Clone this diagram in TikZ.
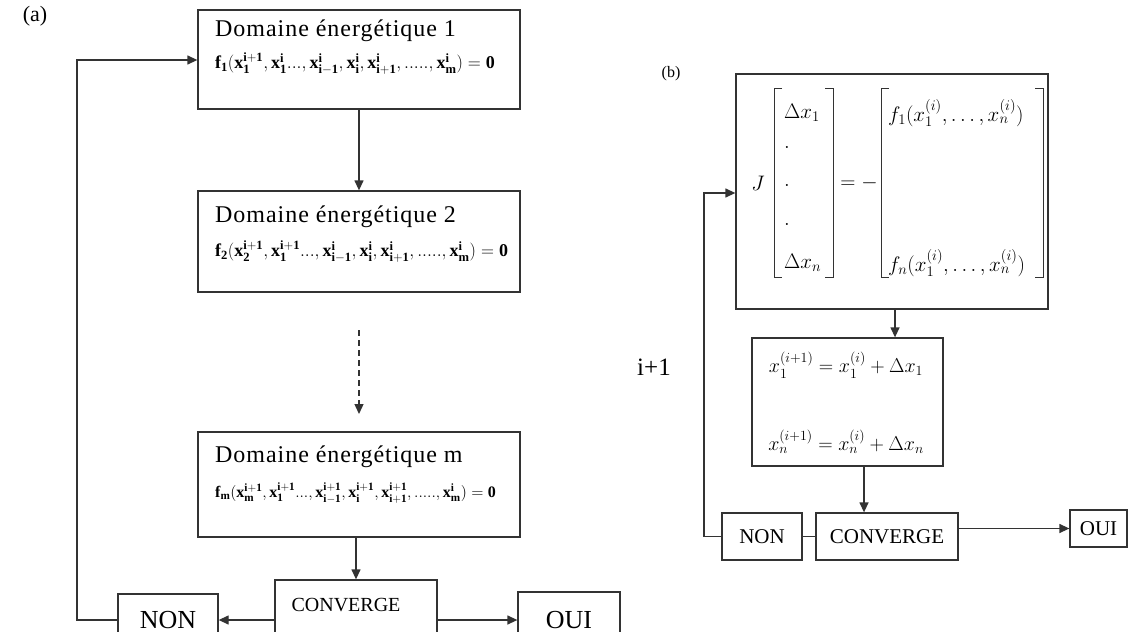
\RequirePackage{fix-cm}
\documentclass[tikz,border=0pt]{standalone}
\usepackage{amsmath}
\usepackage{fontspec}
\setmainfont{Liberation Serif}
\newfontfamily\spacedserif[LetterSpace=4]{Liberation Serif}
\usetikzlibrary{arrows.meta}
\begin{document}
\begin{tikzpicture}[x=1pt,y=-1pt,
  box/.style={draw=black!80, line width=1.3pt, rectangle, inner sep=0pt},
  arr/.style={draw=black!80, line width=1.3pt, -{Triangle[length=10pt,width=9pt]}},
  conn/.style={draw=black!80, line width=1.3pt},
  title/.style={font=\spacedserif\fontsize{24}{26}\selectfont, anchor=west, inner sep=0pt},
  eq/.style={font=\fontsize{18}{20}\selectfont, anchor=west, inner sep=0pt},
  lbig/.style={font=\fontsize{26}{28}\selectfont},
  lmid/.style={font=\fontsize{20}{22}\selectfont},
  lsmall/.style={font=\fontsize{21}{23}\selectfont},
  mth/.style={font=\fontsize{21}{23}\selectfont, inner sep=0pt}]
\clip (0,0) rectangle (1141,632);
\useasboundingbox (0,0) rectangle (1141,632);
\fill[white] (0,0) rectangle (1141,632);

% ---------- (a) ----------
\node[font=\fontsize{22}{24}\selectfont] (la) at (35,16) {(a)};

\node[box, minimum width=322, minimum height=99] (b1) at (359,59.5) {};
\node[title] (t1) at (215,31) {Domaine énergétique 1};
\node[eq] (f1) at (215,64) {$\mathbf{f_1(x_1^{i+1}, x_1^{i}..., x_{i-1}^{i}, x_i^{i}, x_{i+1}^{i},....., x_m^{i}) = 0}$};

\node[box, minimum width=322, minimum height=101] (b2) at (359,241.5) {};
\node[title] (t2) at (215,217) {Domaine énergétique 2};
\node[eq] (f2) at (215,252) {$\mathbf{f_2(x_2^{i+1}, x_1^{i+1}..., x_{i-1}^{i}, x_i^{i}, x_{i+1}^{i},....., x_m^{i}) = 0}$};

\node[box, minimum width=322, minimum height=105] (b3) at (359,484.5) {};
\node[title] (t3) at (215,457) {Domaine énergétique m};
\node[eq, font=\fontsize{16}{18}\selectfont] (f3) at (215,493) {$\mathbf{f_m(x_m^{i+1}, x_1^{i+1}..., x_{i-1}^{i+1}, x_i^{i+1}, x_{i+1}^{i+1},....., x_m^{i}) = 0}$};

\node[box, minimum width=162, minimum height=72] (conv) at (356,616) {};
\node[lmid, inner sep=0pt] (convt) at (346,605) {CONVERGE};
\node[box, lbig, minimum width=100, minimum height=52] (non) at (168,620) {NON};
\node[box, lbig, minimum width=102, minimum height=56] (oui) at (569,620) {OUI};

\coordinate (d1) at (359,330);
\coordinate (d2) at (359,414);
\coordinate (loopA) at (77,60);

\draw[arr] (b1.south) -- (b2.north);
\draw[arr, dash pattern=on 6pt off 4pt] (d1) -- (d2);
\draw[arr] (conv.north |- b3.south) -- (conv.north);
\draw[arr] (conv.west |- non.east) -- (non.east);
\draw[arr] (conv.east |- oui.west) -- (oui.west);
\draw[arr] (non.west) -| (loopA) -- (b1.west |- loopA);

% ---------- (b) ----------
\node[font=\fontsize{16}{18}\selectfont] (lb) at (671,74) {(b)};
\node[font=\fontsize{25}{27}\selectfont] (ip1) at (654,367) {i+1};

\node[box, minimum width=312, minimum height=235] (bb) at (892,191.5) {};
\node[mth] (J) at (758,183) {$J$};
\node[mth, anchor=west] (dx1) at (784,113) {$\Delta x_1$};
\node[mth, anchor=west] (p1) at (784,147) {$.$};
\node[mth, anchor=west] (p2) at (784,185) {$.$};
\node[mth, anchor=west] (p3) at (784,224) {$.$};
\node[mth, anchor=west] (dxn) at (784,263) {$\Delta x_n$};
\node[mth] (eqm) at (859,183) {$=-$};
\node[mth, anchor=west] (fa) at (888,113) {$f_1(x_1^{(i)},\ldots,x_n^{(i)})$};
\node[mth, anchor=west] (fb) at (888,263) {$f_n(x_1^{(i)},\ldots,x_n^{(i)})$};
\draw[conn, line width=1pt] (782,88) -- (774,88) -- (774,277) -- (782,277);
\draw[conn, line width=1pt] (825,88) -- (833,88) -- (833,277) -- (825,277);
\draw[conn, line width=1pt] (889,88) -- (881,88) -- (881,277) -- (889,277);
\draw[conn, line width=1pt] (1035,88) -- (1043,88) -- (1043,277) -- (1035,277);

\node[box, minimum width=191, minimum height=128] (upd) at (847.5,402) {};
\node[mth, font=\fontsize{20}{22}\selectfont] (u1) at (846,365) {$x_1^{(i+1)} = x_1^{(i)} + \Delta x_1$};
\node[mth, font=\fontsize{20}{22}\selectfont] (u2) at (846,442) {$x_n^{(i+1)} = x_n^{(i)} + \Delta x_n$};

\node[box, lsmall, minimum width=80, minimum height=47] (non2) at (762,536.5) {NON};
\node[box, lsmall, minimum width=142, minimum height=47] (conv2) at (887,536.5) {CONVERGE};
\node[box, lsmall, minimum width=57, minimum height=37] (oui2) at (1098.5,528.5) {OUI};

\coordinate (loopB) at (704,193);
\draw[arr] ([xshift=3pt]bb.south) -- ([xshift=3pt]bb.south |- upd.north);
\draw[arr] ([xshift=16.5pt]upd.south) -- ([xshift=16.5pt]upd.south |- conv2.north);
\draw[conn] (non2.east) -- (conv2.west);
\draw[arr] (conv2.east |- oui2.west) -- (oui2.west);
\draw[arr] (non2.west) -| (loopB) -- (bb.west |- loopB);
\end{tikzpicture}
\end{document}
